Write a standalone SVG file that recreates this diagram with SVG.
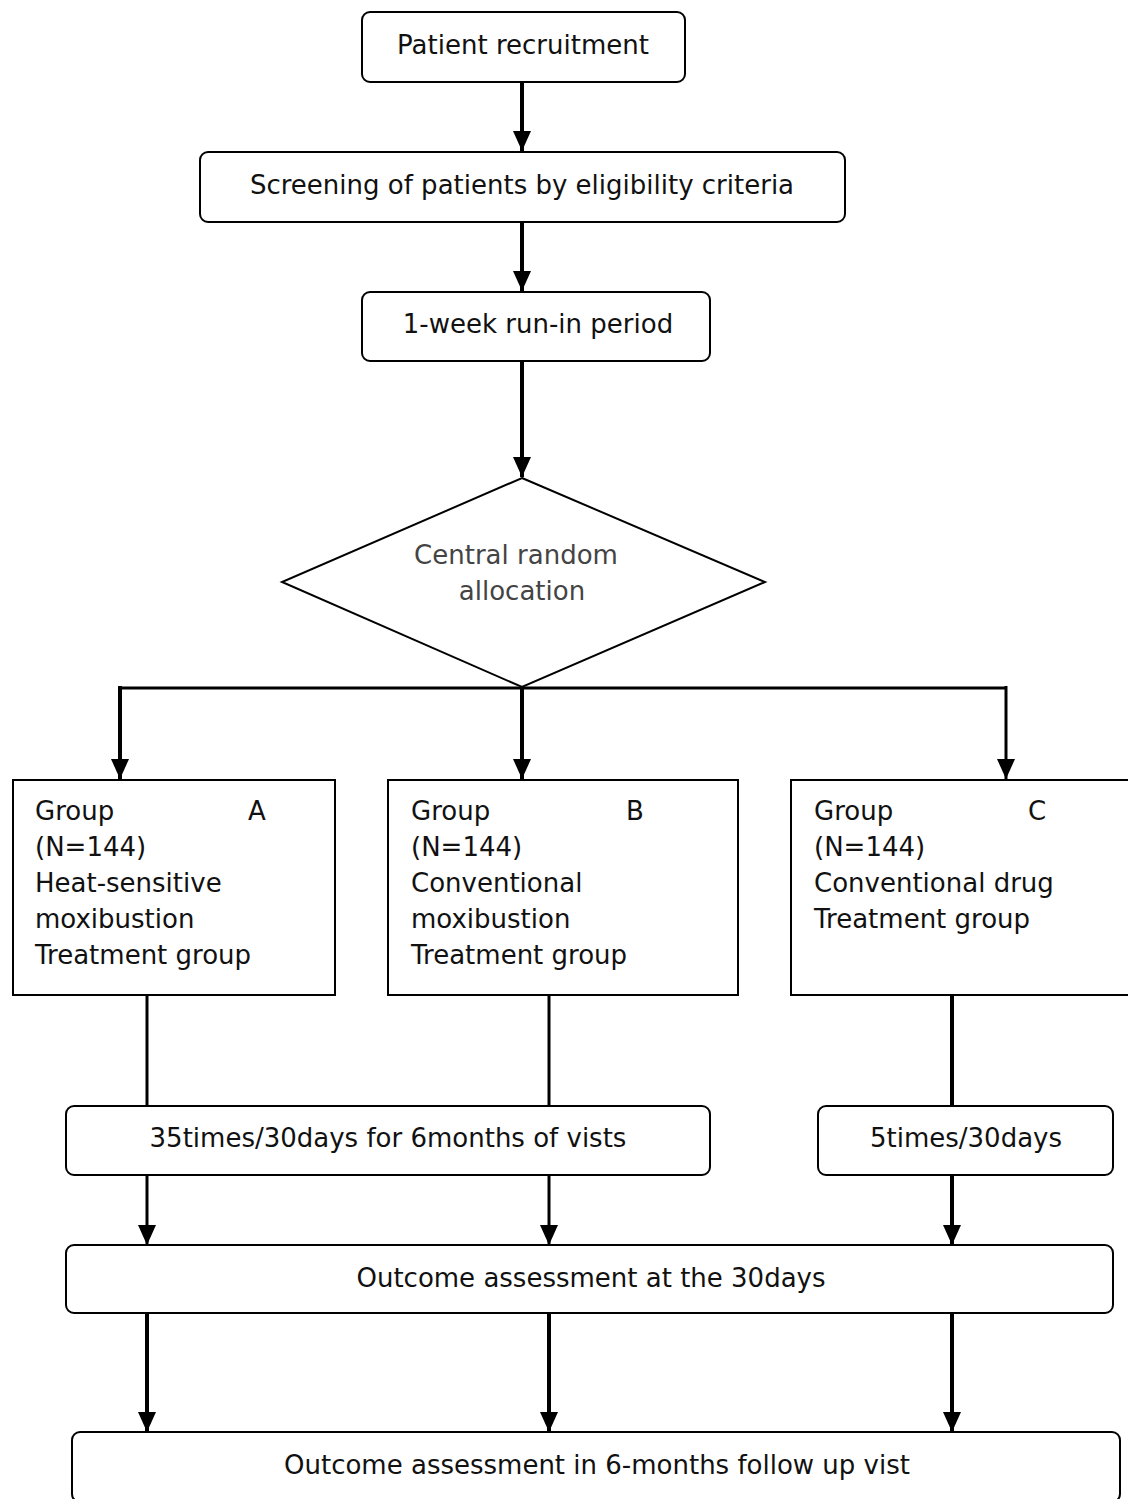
<svg xmlns="http://www.w3.org/2000/svg" width="1128" height="1499" viewBox="0 0 1128 1499">
<style>
.box{fill:#fff;stroke:#000;stroke-width:2}
.t{font-family:"DejaVu Sans",Verdana,sans-serif;font-size:26px;fill:#111}
.c{text-anchor:middle}
.gray{fill:#444}
.arr{stroke:#000;stroke-width:4;fill:none}
.ln{stroke:#000;stroke-width:3;fill:none}
</style>
<defs>
<marker id="ah" viewBox="0 0 20 18" refX="20" refY="9" markerWidth="20" markerHeight="18" markerUnits="userSpaceOnUse" orient="auto">
<path d="M0,0 L20,9 L0,18 Z" fill="#000"/>
</marker>
</defs>
<rect width="1128" height="1499" fill="#fff"/>
<g id="connectors">
<line class="arr" x1="522" y1="82" x2="522" y2="151" marker-end="url(#ah)"/>
<line class="arr" x1="522" y1="222" x2="522" y2="291" marker-end="url(#ah)"/>
<line class="arr" x1="522" y1="361" x2="522" y2="477" marker-end="url(#ah)"/>
<line class="ln" x1="119" y1="688" x2="1007" y2="688"/>
<line class="arr" x1="522" y1="687" x2="522" y2="779" marker-end="url(#ah)"/>
<line class="arr" x1="120" y1="686" x2="120" y2="779" marker-end="url(#ah)"/>
<line class="ln" x1="1006" y1="686" x2="1006" y2="779" marker-end="url(#ah)"/>
<line class="ln" x1="147" y1="990" x2="147" y2="1106"/>
<line class="ln" x1="549" y1="990" x2="549" y2="1106"/>
<line class="arr" x1="952" y1="990" x2="952" y2="1106"/>
<line class="ln" x1="147" y1="1175" x2="147" y2="1245" marker-end="url(#ah)"/>
<line class="ln" x1="549" y1="1175" x2="549" y2="1245" marker-end="url(#ah)"/>
<line class="arr" x1="952" y1="1175" x2="952" y2="1245" marker-end="url(#ah)"/>
<line class="arr" x1="147" y1="1313" x2="147" y2="1432" marker-end="url(#ah)"/>
<line class="arr" x1="549" y1="1313" x2="549" y2="1432" marker-end="url(#ah)"/>
<line class="arr" x1="952" y1="1313" x2="952" y2="1432" marker-end="url(#ah)"/>
</g>
<g id="n1"><rect class="box" x="362" y="12" width="323" height="70" rx="8"/><text class="t c" x="523" y="54">Patient recruitment</text></g>
<g id="n2"><rect class="box" x="200" y="152" width="645" height="70" rx="8"/><text class="t c" x="522" y="194">Screening of patients by eligibility criteria</text></g>
<g id="n3"><rect class="box" x="362" y="292" width="348" height="69" rx="8"/><text class="t c" x="538" y="333">1-week run-in period</text></g>
<g id="n4"><polygon class="box" points="522,478 765,582 522,687 282,582"/><text class="t c gray" x="516" y="564">Central random</text><text class="t c gray" x="522" y="600">allocation</text></g>
<g id="nA"><rect class="box" x="13" y="780" width="322" height="215"/>
<text class="t" x="35" y="820">Group</text><text class="t" x="248" y="820">A</text>
<text class="t" x="35" y="856">(N=144)</text>
<text class="t" x="35" y="892">Heat-sensitive</text>
<text class="t" x="35" y="928">moxibustion</text>
<text class="t" x="35" y="964">Treatment group</text></g>
<g id="nB"><rect class="box" x="388" y="780" width="350" height="215"/>
<text class="t" x="411" y="820">Group</text><text class="t" x="626" y="820">B</text>
<text class="t" x="411" y="856">(N=144)</text>
<text class="t" x="411" y="892">Conventional</text>
<text class="t" x="411" y="928">moxibustion</text>
<text class="t" x="411" y="964">Treatment group</text></g>
<g id="nC"><rect class="box" x="791" y="780" width="345" height="215"/>
<text class="t" x="814" y="820">Group</text><text class="t" x="1028" y="820">C</text>
<text class="t" x="814" y="856">(N=144)</text>
<text class="t" x="814" y="892">Conventional drug</text>
<text class="t" x="814" y="928">Treatment group</text></g>
<g id="n5"><rect class="box" x="66" y="1106" width="644" height="69" rx="8"/><text class="t c" x="388" y="1147">35times/30days for 6months of vists</text></g>
<g id="n6"><rect class="box" x="818" y="1106" width="295" height="69" rx="8"/><text class="t c" x="966" y="1147">5times/30days</text></g>
<g id="n7"><rect class="box" x="66" y="1245" width="1047" height="68" rx="8"/><text class="t c" x="591" y="1287">Outcome assessment at the 30days</text></g>
<g id="n8"><rect class="box" x="72" y="1432" width="1048" height="70" rx="8"/><text class="t c" x="597" y="1474">Outcome assessment in 6-months follow up vist</text></g>
</svg>
